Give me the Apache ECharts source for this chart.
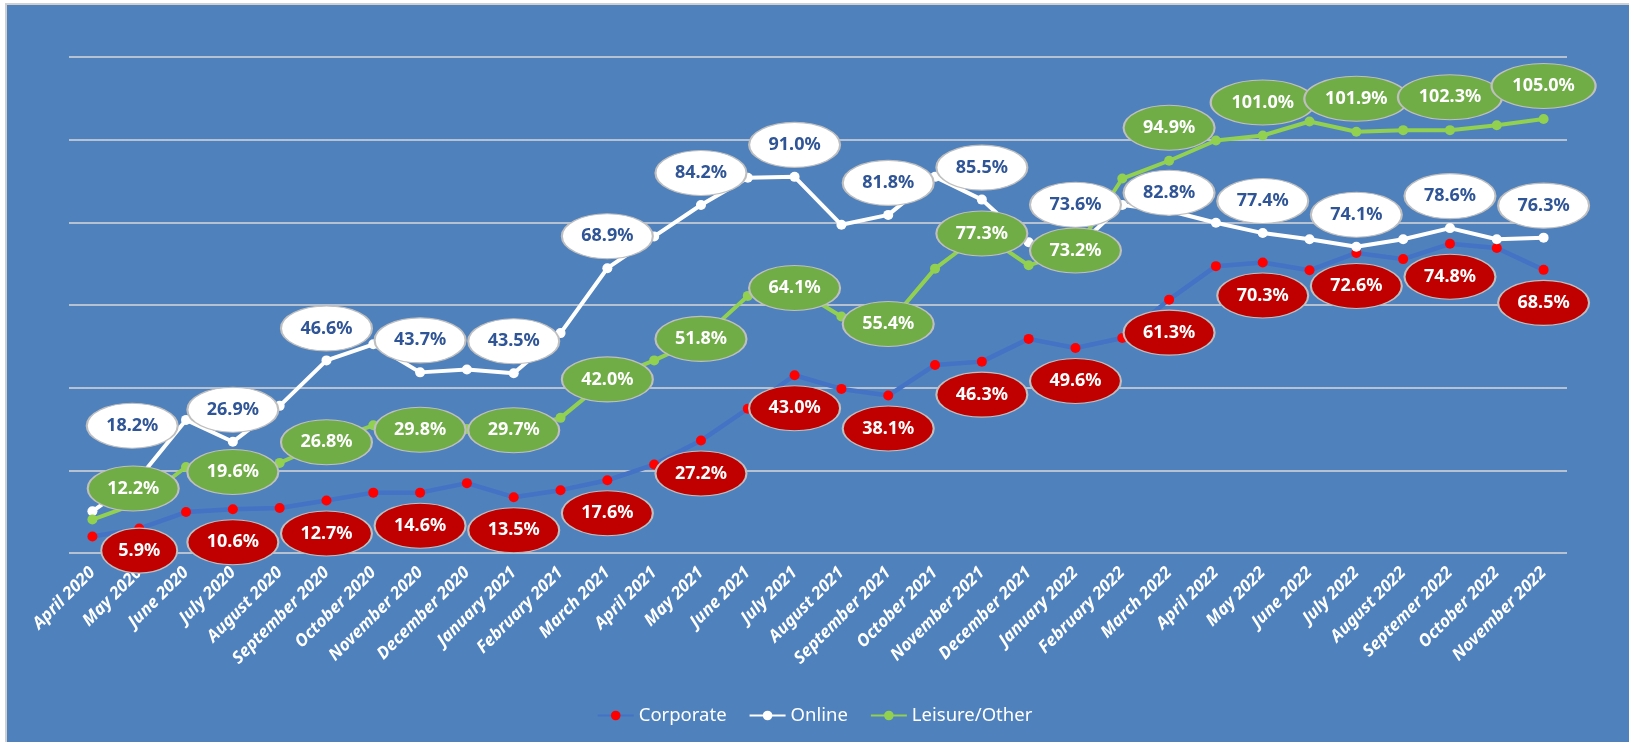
<!DOCTYPE html>
<html>
<head>
<meta charset="utf-8">
<script src="https://cdn.jsdelivr.net/npm/echarts@6/dist/echarts.min.js"></script>
<style>
  html, body { margin: 0; padding: 0; background: #ffffff; }
  #frame {
    position: absolute; left: 5px; top: 3px; width: 1624px; height: 739px;
    background: #4f81bd; border-left: 2px solid #d0d0d0; border-top: 2px solid #d0d0d0;
    box-sizing: border-box;
  }
  #main { position: absolute; left: -7px; top: -5px; width: 1629px; height: 742px; }
</style>
</head>
<body>
<div id="frame"><div id="main"></div></div>
<script>
// months, April 2020 .. November 2022 (label "Septemer 2022" kept as in the source)
const months = [
  'April 2020', 'May 2020', 'June 2020', 'July 2020', 'August 2020', 'September 2020',
  'October 2020', 'November 2020', 'December 2020', 'January 2021', 'February 2021',
  'March 2021', 'April 2021', 'May 2021', 'June 2021', 'July 2021', 'August 2021',
  'September 2021', 'October 2021', 'November 2021', 'December 2021', 'January 2022',
  'February 2022', 'March 2022', 'April 2022', 'May 2022', 'June 2022', 'July 2022',
  'August 2022', 'Septemer 2022', 'October 2022', 'November 2022'
]

// percent values (labelled ones are exact)
const corporate = [4.0, 5.9, 9.9, 10.6, 10.9, 12.7, 14.6, 14.6, 16.9, 13.5, 15.2, 17.6,
  21.4, 27.2, 34.9, 43.0, 39.7, 38.1, 45.5, 46.3, 51.8, 49.6, 52.0, 61.3,
  69.4, 70.3, 68.4, 72.6, 71.1, 74.8, 73.8, 68.5]
const online = [10.1, 18.2, 32.2, 26.9, 35.6, 46.6, 50.5, 43.7, 44.4, 43.5, 53.2, 68.9,
  76.6, 84.2, 90.8, 91.0, 79.4, 81.8, 91.0, 85.5, 75.2, 73.6, 84.2, 82.8,
  79.9, 77.4, 75.9, 74.1, 75.9, 78.6, 75.9, 76.3]
const leisure = [8.1, 12.2, 20.8, 19.6, 21.8, 26.8, 30.9, 29.8, 30.0, 29.7, 32.7, 42.0,
  46.6, 51.8, 62.2, 64.1, 57.2, 55.4, 68.8, 77.3, 69.6, 73.2, 90.6, 94.9,
  99.8, 101.0, 104.4, 101.9, 102.3, 102.3, 103.5, 105.0]

const yTicks = { min: 0, max: 120, interval: 20 }

const font = 'Noto Sans'

// where the data-label bubbles sit relative to their point (pixels)
const corpShift = (i) => (i === 1 ? [0, 22] : [0, 33])
const onlineShift = (i) => ({ 1: [-7, -52], 21: [0, -44], 23: [0, -18] }[i] || [0, -32])
const leisureShift = (i) => (i === 1 ? [-6, -14] : i <= 21 ? [0, 0] : [0, -33])

const ellipse = 'path://M0,50A50,50,0,1,1,100,50A50,50,0,1,1,0,50Z'

function bubbleSeries(values, fill, textColor, shift, z) {
  const data = []
  values.forEach((v, i) => {
    if (i % 2 === 1) {
      const txt = v.toFixed(1) + '%'
      const w = txt.length <= 4 ? 76 : txt.length === 5 ? 91 : 104
      data.push({ value: [i, v], symbolOffset: shift(i), symbolSize: [w, 45] })
    }
  })
  return {
    type: 'scatter',
    data: data,
    symbol: ellipse,
    z: z,
    silent: true,
    itemStyle: { color: fill, borderColor: '#bfbfbf', borderWidth: 1.5, opacity: 1 },
    label: {
      show: true,
      position: 'inside',
      color: textColor,
      fontFamily: font,
      fontWeight: 'bold',
      fontSize: 18,
      formatter: (p) => p.value[1].toFixed(1) + '%'
    },
    emphasis: { disabled: true }
  }
}

const chart = echarts.init(document.getElementById('main'))
const option = {
  animation: false,
  backgroundColor: 'transparent',
  grid: { left: 69, right: 62, top: 57, bottom: 189 },
  legend: {
    data: ['Corporate', 'Online', 'Leisure/Other'],
    left: 'center',
    top: 701,
    itemWidth: 36,
    itemHeight: 12,
    itemGap: 22,
    textStyle: { color: '#ffffff', fontFamily: font, fontSize: 18.5 }
  },
  xAxis: {
    type: 'category',
    data: months,
    boundaryGap: true,
    axisLine: { show: false },
    axisTick: { show: false },
    axisLabel: {
      interval: 0,
      rotate: 45,
      margin: 17,
      color: '#ffffff',
      fontFamily: font,
      fontStyle: 'italic',
      fontWeight: 'bold',
      fontSize: 17
    }
  },
  yAxis: {
    type: 'value',
    min: yTicks.min,
    max: yTicks.max,
    interval: yTicks.interval,
    axisLabel: { show: false },
    axisLine: { show: false },
    axisTick: { show: false },
    splitLine: { lineStyle: { color: '#d9d9d9', width: 1.5 } }
  },
  series: [
    {
      name: 'Corporate',
      type: 'line',
      data: corporate,
      symbol: 'circle',
      symbolSize: 10,
      z: 2,
      itemStyle: { color: '#ff0000', borderWidth: 0 },
      lineStyle: { color: '#4472c4', width: 4.5 },
      emphasis: { disabled: true }
    },
    {
      name: 'Online',
      type: 'line',
      data: online,
      symbol: 'circle',
      symbolSize: 10,
      z: 2,
      itemStyle: { color: '#ffffff', borderWidth: 0 },
      lineStyle: { color: '#ffffff', width: 4 },
      emphasis: { disabled: true }
    },
    {
      name: 'Leisure/Other',
      type: 'line',
      data: leisure,
      symbol: 'circle',
      symbolSize: 10,
      z: 2,
      itemStyle: { color: '#92d050', borderWidth: 0 },
      lineStyle: { color: '#92d050', width: 4 },
      emphasis: { disabled: true }
    },
    bubbleSeries(corporate, '#c00000', '#ffffff', corpShift, 5),
    bubbleSeries(online, '#ffffff', '#2f5597', onlineShift, 6),
    bubbleSeries(leisure, '#70ad47', '#ffffff', leisureShift, 7)
  ]
}
chart.setOption(option)
</script>
</body>
</html>
